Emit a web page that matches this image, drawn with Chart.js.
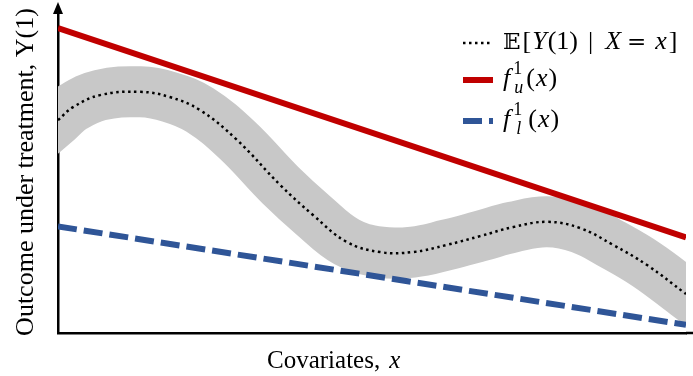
<!DOCTYPE html>
<html>
<head>
<meta charset="utf-8">
<script src="https://cdn.jsdelivr.net/npm/chart.js@4/dist/chart.umd.min.js"></script>
<style>
  html, body { margin: 0; padding: 0; background: #fff; }
  #wrap { width: 693px; height: 376px; }
</style>
</head>
<body>
<div id="wrap"><canvas id="chart"></canvas></div>
<script>
// conditional mean curve (x in 0..100, y in 0..100, no tick values shown)
const curveX = [0, 2.4, 6.7, 13.1, 17.8, 22.6, 28.5, 35.4, 40.6, 46.0, 51.3, 56.5, 61.9, 67.2, 72.5, 77.9, 83.1, 88.4, 93.8, 100];
const meanY = [65.5, 69.5, 73.2, 74.2, 72.6, 68.6, 59.4, 45.5, 36.3, 28.0, 24.9, 24.9, 27.1, 29.8, 32.6, 34.2, 32.3, 27.1, 20.9, 12.0];

// linear bounds
const boundX = [0, 100];
const upperY = [93.8, 29.4];
const lowerY = [32.8, 2.5];

const xTitle = "Covariates,";
const xTitleVar = "x";
const yTitle = "Outcome under treatment, Y(1)";

const RED = "rgb(192, 0, 0)";
const BLUE = "rgb(47, 85, 151)";
const GREY = "rgb(200, 200, 200)";
const SERIF = '"Liberation Serif", "Times New Roman", serif';

function pts(xs, ys) {
  return xs.map((x, i) => ({ x: x, y: ys[i] }));
}

// draw a run of text pieces, some italic, some raised/lowered
function drawRun(ctx, x, y, runs) {
  runs.forEach(r => {
    ctx.font = (r.it ? "italic " : "") + (r.size || 26) + "px " + (r.family || SERIF);
    x += r.pre || 0;
    ctx.fillText(r.t, x, y + (r.dy || 0));
    if (!r.stay) x += ctx.measureText(r.t).width;
  });
  return x;
}

const mathLegend = {
  id: "mathLegend",
  afterDraw(chart) {
    const ctx = chart.ctx;
    const rows = [
      { ds: 0, y: 43, runs: [
        { t: "\u{1D53C}", family: '"DejaVu Serif", "DejaVu Sans", serif', size: 23 },
        { t: "[", pre: 2 },
        { t: "Y", it: true, pre: 1 },
        { t: "(1)", pre: 1 },
        { t: "|", pre: 10 },
        { t: "X", it: true, pre: 12 },
        { t: "=", pre: 6, family: '"DejaVu Serif", serif', size: 23 },
        { t: "x", it: true, pre: 9 },
        { t: "]", pre: 2 }
      ]},
      { ds: 1, y: 80, runs: [
        { t: "f", it: true },
        { t: "1", size: 18, dy: -12, pre: 3, stay: true },
        { t: "u", it: true, size: 18, dy: 7, pre: 1 },
        { t: "(", pre: 3 },
        { t: "x", it: true, pre: 1 },
        { t: ")", pre: 1 }
      ]},
      { ds: 2, y: 121, runs: [
        { t: "f", it: true },
        { t: "1", size: 18, dy: -12, pre: 3, stay: true },
        { t: "l", it: true, size: 18, dy: 7, pre: 3 },
        { t: "(", pre: 7 },
        { t: "x", it: true, pre: 1 },
        { t: ")", pre: 1 }
      ]}
    ];
    ctx.save();
    rows.forEach(row => {
      const ds = chart.data.datasets[row.ds];
      ctx.beginPath();
      ctx.strokeStyle = ds.borderColor;
      ctx.lineWidth = ds.borderWidth;
      ctx.setLineDash(ds.borderDash || []);
      ctx.moveTo(463, row.y);
      ctx.lineTo(row.ds === 0 ? 491 : 493, row.y);
      ctx.stroke();
      ctx.setLineDash([]);
      ctx.fillStyle = "#000";
      ctx.textBaseline = "alphabetic";
      drawRun(ctx, 503, row.y + 6, row.runs);
    });
    ctx.restore();
  }
};

const axisDecor = {
  id: "axisDecor",
  afterDraw(chart) {
    const ctx = chart.ctx;
    const a = chart.chartArea;
    ctx.save();
    // arrow head on the y axis, x axis runs on to the edge
    ctx.fillStyle = "#000";
    ctx.beginPath();
    ctx.moveTo(a.left, a.top - 6);
    ctx.lineTo(a.left - 5, a.top + 6);
    ctx.lineTo(a.left + 5, a.top + 6);
    ctx.closePath();
    ctx.fill();
    ctx.strokeStyle = "#000";
    ctx.lineWidth = 2.5;
    ctx.beginPath();
    ctx.moveTo(a.right, a.bottom);
    ctx.lineTo(chart.width, a.bottom);
    ctx.stroke();

    // axis titles
    ctx.fillStyle = "#000";
    ctx.textBaseline = "alphabetic";
    drawRun(ctx, 267, 368, [
      { t: xTitle, size: 25 },
      { t: xTitleVar, it: true, size: 25, pre: 9 }
    ]);
    ctx.translate(33, 172);
    ctx.rotate(-Math.PI / 2);
    ctx.textAlign = "center";
    ctx.font = "26px " + SERIF;
    ctx.fillText(yTitle, 0, 0);
    ctx.restore();
  }
};

new Chart(document.getElementById("chart"), {
  type: "line",
  data: {
    datasets: [
      {
        label: "E[Y(1) | X = x]",
        data: pts(curveX, meanY),
        borderColor: "#000",
        borderWidth: 2.5,
        borderDash: [2.5, 3.5],
        tension: 0.4,
        pointRadius: 0,
        order: 1
      },
      {
        label: "f_u^1(x)",
        data: pts(boundX, upperY),
        borderColor: RED,
        borderWidth: 6,
        pointRadius: 0,
        order: 2
      },
      {
        label: "f_l^1(x)",
        data: pts(boundX, lowerY),
        borderColor: BLUE,
        borderWidth: 6,
        borderDash: [19, 7],
        pointRadius: 0,
        order: 3
      },
      {
        label: "band",
        data: pts(curveX, meanY),
        borderColor: GREY,
        borderWidth: 51,
        borderCapStyle: "square",
        tension: 0.4,
        pointRadius: 0,
        clip: 0,
        order: 9
      }
    ]
  },
  options: {
    responsive: true,
    maintainAspectRatio: false,
    animation: false,
    layout: { padding: { left: 58, right: 7, top: 8, bottom: 43 } },
    plugins: {
      legend: { display: false },
      tooltip: { enabled: false }
    },
    scales: {
      x: {
        type: "linear",
        min: 0,
        max: 100,
        ticks: { display: false },
        grid: { display: false, drawTicks: false },
        border: { display: true, color: "#000", width: 2.5 }
      },
      y: {
        type: "linear",
        min: 0,
        max: 100,
        ticks: { display: false },
        grid: { display: false, drawTicks: false },
        border: { display: true, color: "#000", width: 2.5 }
      }
    }
  },
  plugins: [mathLegend, axisDecor]
});
</script>
</body>
</html>
